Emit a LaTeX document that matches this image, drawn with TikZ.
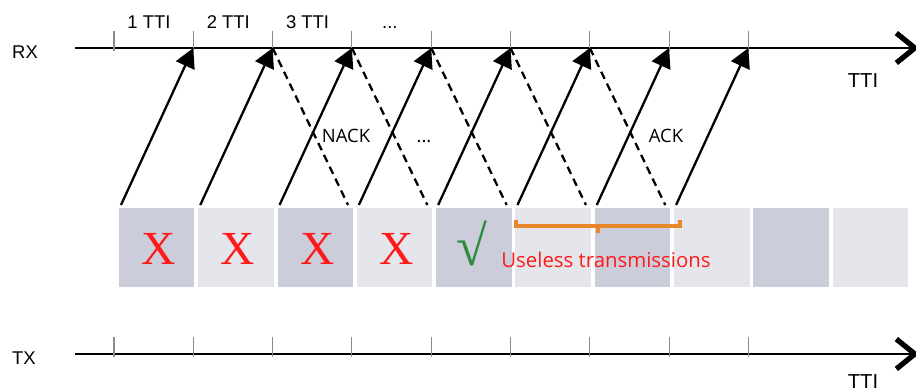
\documentclass[tikz,border=0pt]{standalone}
\usepackage{fontspec}
\setmainfont{Liberation Sans}
\newfontfamily\msgfont{Open Sans}
\newfontfamily\markfont{Liberation Serif}
\usetikzlibrary{arrows.meta,positioning}

\definecolor{cellA}{HTML}{CBCDDA}
\definecolor{cellB}{HTML}{E5E6EC}
\definecolor{markred}{HTML}{FF1A1A}
\definecolor{markgreen}{HTML}{2E8B3E}
\definecolor{braceorange}{HTML}{E8862A}
\definecolor{tickgray}{HTML}{8C8C8C}

\begin{document}
\begin{tikzpicture}[x=0.02cm, y=-0.02cm,
    axisline/.style={line width=1.6pt, -{Straight Barb[length=10.5pt,width=17pt,line width=3pt]}},
    tickline/.style={tickgray, line width=0.6pt},
    cell/.style={minimum width=1.51cm, minimum height=1.58cm, inner sep=0pt, outer sep=0pt},
    data/.style={line width=1.3pt, -{Triangle[length=11pt,width=11.5pt]}},
    fb/.style={line width=1.3pt, dash pattern=on 4.5pt off 3pt},
    lbl/.style={font=\fontsize{10.5}{12}\selectfont, anchor=base, inner sep=0pt},
    msg/.style={font=\msgfont\fontsize{10.5}{12}\selectfont, anchor=base, inner sep=0pt},
    markx/.style={font=\markfont\fontsize{27}{30}\selectfont, text=markred, anchor=base, inner sep=0pt}]
    % Шаг TTI и положение осей
    \def\pitch{79.3}
    \def\rxy{48}
    \def\txy{354}

    \useasboundingbox (0,0) rectangle (916,392);

    % Оси RX и TX
    \coordinate (rxstart) at (75,\rxy);
    \coordinate (rxend) at (919,\rxy);
    \coordinate (txstart) at (75,\txy);
    \coordinate (txend) at (919,\txy);
    \draw[axisline] (rxstart) -- (rxend);
    \draw[axisline] (txstart) -- (txend);
    \node[lbl] (rxlab) at (25,58) {RX};
    \node[lbl] (txlab) at (24,364) {TX};
    \node[lbl, font=\fontsize{11.5}{12}\selectfont] (rxtti) at (863,87) {TTI};
    \node[lbl, font=\fontsize{11.5}{12}\selectfont] (txtti) at (863,388) {TTI};

    % Засечки по границам TTI
    \foreach \k in {1,...,9} {
        \coordinate (rx\k) at ({114+(\k-1)*\pitch},\rxy);
        \coordinate (tx\k) at ({114+(\k-1)*\pitch},\txy);
        \draw[tickline] (rx\k) ++(0,-17) -- ++(0,20);
        \draw[tickline] (tx\k) ++(0,-17) -- ++(0,20);
    }

    % Подписи интервалов
    \foreach \k in {1,2,3}
        \node[lbl] (tti\k) at ({149+(\k-1)*\pitch},29) {\k\ TTI};
    \node[lbl] (tti4) at ({149+3*\pitch+3},29) {...};

    % Передачи
    \foreach \i/\shade in {1/cellA, 2/cellB, 3/cellA, 4/cellB, 5/cellA,
                           6/cellB, 7/cellA, 8/cellB, 9/cellA, 10/cellB}
        \node[cell, fill=\shade] (b\i) at ({156.7+(\i-1)*\pitch},247.5) {};

    \foreach \i in {1,...,4}
        \node[markx] (x\i) at ([shift={(2,16.5)}]b\i.center) {X};
    \node[markx, text=markgreen, font=\markfont\fontsize{32}{34}\selectfont]
        (ok) at ([shift={(-2,18)}]b5.center) {√};

    % Данные к приёмнику
    \foreach \i in {1,...,8} {
        \pgfmathtruncatemacro{\next}{\i+1}
        \draw[data] ([shift={(2,-3)}]b\i.north west) -- (rx\next);
    }

    % Обратная связь NACK/ACK
    \foreach \i in {3,...,7}
        \draw[fb] (rx\i) -- ([shift={(-5,-3)}]b\i.north east);

    \node[msg] (nack) at (346,142) {NACK};
    \node[msg] (dots) at (424,142) {...};
    \node[msg] (ack) at (666,142) {ACK};

    % Лишние передачи
    \draw[braceorange, line width=2pt]
        (516,220) -- (516,226) -- (680,226) -- (680,220)
        (598,226) -- (598,233);
    \node[msg, text=markred, font=\msgfont\fontsize{11.6}{14}\selectfont]
        (useless) at (606,267) {Useless transmissions};
\end{tikzpicture}
\end{document}
